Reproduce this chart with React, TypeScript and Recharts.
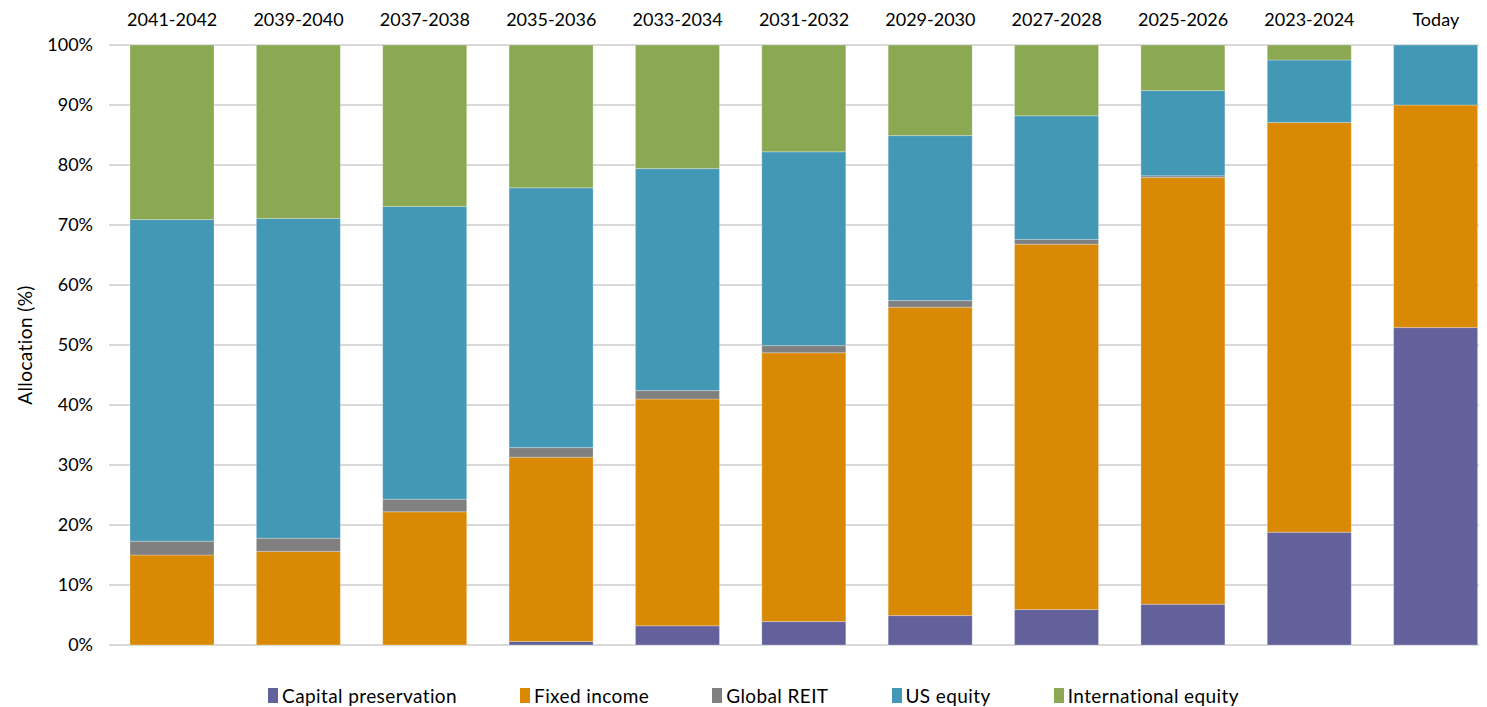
import { BarChart, Bar, XAxis, YAxis, CartesianGrid, Legend } from 'recharts';

const categories = [
  '2041-2042', '2039-2040', '2037-2038', '2035-2036', '2033-2034', '2031-2032',
  '2029-2030', '2027-2028', '2025-2026', '2023-2024', 'Today',
];
const capitalPreservation = [0, 0, 0, 0.6, 3.2, 3.9, 4.9, 5.9, 6.8, 18.8, 52.9];
const fixedIncome = [15.0, 15.6, 22.2, 30.7, 37.8, 44.8, 51.4, 60.9, 71.1, 68.3, 37.1];
const globalReit = [2.3, 2.2, 2.1, 1.6, 1.4, 1.2, 1.1, 0.8, 0.3, 0, 0];
const usEquity = [53.6, 53.3, 48.8, 43.3, 37.0, 32.3, 27.5, 20.6, 14.2, 10.4, 10.0];
const intlEquity = [29.1, 28.9, 26.9, 23.8, 20.6, 17.8, 15.1, 11.8, 7.6, 2.5, 0];
const yTicks = [0, 10, 20, 30, 40, 50, 60, 70, 80, 90, 100];

const series = [
  { key: 'capital', name: 'Capital preservation', color: '#63619b', values: capitalPreservation },
  { key: 'fixed', name: 'Fixed income', color: '#da8905', values: fixedIncome },
  { key: 'reit', name: 'Global REIT', color: '#808080', values: globalReit },
  { key: 'us', name: 'US equity', color: '#4398b5', values: usEquity },
  { key: 'intl', name: 'International equity', color: '#8ba852', values: intlEquity },
];

const data = categories.map((name, i) => {
  const row: Record<string, string | number> = { name };
  series.forEach((s) => {
    row[s.key] = s.values[i];
  });
  return row;
});

const font = 'Lato, "Open Sans", sans-serif';

function LegendContent() {
  return (
    <div
      style={{
        height: 62,
        display: 'flex',
        alignItems: 'flex-end',
        justifyContent: 'center',
        paddingBottom: 2,
        boxSizing: 'border-box',
        fontFamily: font,
        fontSize: 19,
        letterSpacing: 0.4,
        color: '#000',
      }}
    >
      {series.map((s, i) => (
        <div
          key={s.key}
          style={{
            display: 'flex',
            alignItems: 'center',
            height: 20,
            marginRight: i === series.length - 1 ? 0 : 63,
          }}
        >
          <span style={{ width: 10, height: 15, background: s.color, marginRight: 4 }} />
          <span>{s.name}</span>
        </div>
      ))}
    </div>
  );
}

export default function App() {
  return (
    <div style={{ width: 1479, height: 699, overflow: 'hidden', position: 'relative' }}>
      <div
        style={{
          position: 'absolute',
          left: 16,
          top: 337,
          transform: 'translate(-50%, -50%) rotate(-90deg)',
          fontFamily: font,
          fontSize: 19,
          letterSpacing: 0.4,
          whiteSpace: 'nowrap',
          color: '#000',
        }}
      >
        Allocation (%)
      </div>
      <BarChart
        width={1495}
        height={699}
        data={data}
        margin={{ top: 0, right: 4, bottom: 0, left: 0 }}
        barSize={84}
      >
        <CartesianGrid vertical={false} stroke="#d9d9d9" strokeWidth={2} />
        <XAxis
          dataKey="name"
          orientation="top"
          height={37}
          axisLine={false}
          tickLine={false}
          tickMargin={13}
          interval={0}
          tick={{ fill: '#000', fontSize: 18, fontFamily: font }}
        />
        <YAxis
          width={101}
          domain={[0, 100]}
          ticks={yTicks}
          interval={0}
          axisLine={false}
          tickLine={false}
          tickMargin={10}
          tickFormatter={(v: number) => `${v}%`}
          tick={{ fill: '#000', fontSize: 18, fontFamily: font }}
        />
        <Legend verticalAlign="bottom" height={62} content={<LegendContent />} />
        {series.map((s) => (
          <Bar
            key={s.key}
            dataKey={s.key}
            name={s.name}
            stackId="a"
            fill={s.color}
            stroke="rgba(255,255,255,0.35)"
            strokeWidth={0.75}
            isAnimationActive={false}
          />
        ))}
      </BarChart>
    </div>
  );
}
